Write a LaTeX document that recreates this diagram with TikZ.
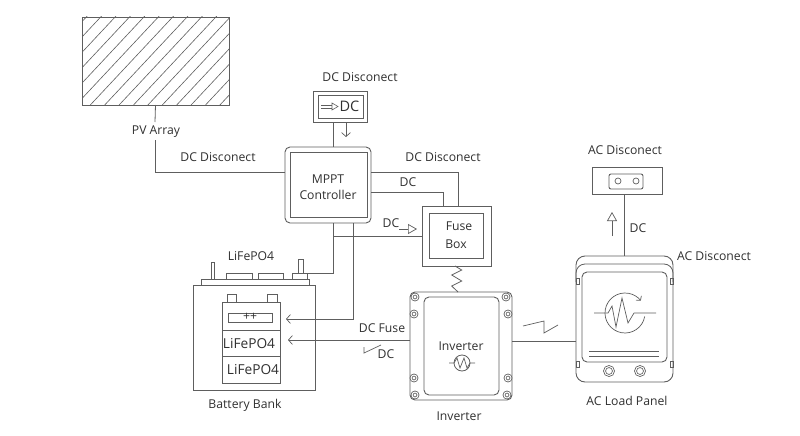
\documentclass[tikz,border=0pt]{standalone}
\usepackage{fontspec}
\setmainfont{Open Sans}
\usetikzlibrary{arrows,arrows.meta}
\definecolor{linegray}{HTML}{5E5E5E}
\definecolor{textgray}{HTML}{303030}
\tikzset{
    box/.style={draw=linegray,line width=0.9pt,inner sep=0pt,outer sep=0pt},
    wire/.style={draw=linegray,line width=0.8pt},
    lbl/.style={text=textgray,font=\fontsize{12.2}{14}\selectfont,inner sep=0pt},
    biglbl/.style={lbl,font=\fontsize{13.7}{15}\selectfont},
    vtip/.style={-{Straight Barb[length=4pt,width=9pt,line width=0.7pt]}},
    tritip/.style={-{Triangle[open,length=9pt,width=10pt,line width=0.7pt]}},
    screw/.style={circle,draw=linegray,line width=0.8pt,inner sep=0pt,double=white,double distance=1pt},
    pin/.style={circle,draw=linegray,line width=0.7pt,minimum size=6pt,inner sep=0pt},
}
\begin{document}
\begin{tikzpicture}[x=1pt,y=-1pt]
    \useasboundingbox (0,0) rectangle (800,436);

    % pv array
    \begin{scope}
        \clip (82,17) rectangle (229,105);
        \foreach \i in {-2,...,15}
            \draw [wire,line width=0.6pt] (18.3+14.4*\i,105) -- ++(88,-94);
    \end{scope}
    \node [box,minimum width=147pt,minimum height=88pt] (pv) at (155.5,61) {};
    \node [lbl] (pvlabel) at (156,132) {PV Array};
    \node [lbl] (pvdc) at (218,157) {DC Disconect};

    % mppt controller
    \node [box,rounded corners=5pt,minimum width=86pt,minimum height=76pt] (mppt) at (328,185) {};
    \node [box,minimum width=77pt,minimum height=65pt] (mpptin) at (328.5,184.5) {};
    \node [lbl] (mppttext) at (328,179) {MPPT};
    \node [lbl] (ctrltext) at (328,195) {Controller};

    % dc disconnect
    \node [box,minimum width=54pt,minimum height=31pt] (disc) at (340,106.5) {};
    \node [box,minimum width=45pt,minimum height=23pt] (discin) at (340.5,106.5) {};
    \node [lbl] (disclabel) at (360,77) {DC Disconect};
    \node [lbl,font=\fontsize{14.5}{16}\selectfont] (disctext) at (349.5,106.5) {DC};
    \draw [wire,line width=0.6pt] (321,105) -- (332,105);
    \draw [wire,line width=0.6pt] (321,108) -- (332,108);
    \draw [wire,line width=0.6pt] (332,103) -- (338,106.5) -- (332,110) -- cycle;
    \coordinate (dnstart) at (346,123);
    \coordinate (dnend) at (346,137);
    \draw [wire,line width=0.6pt,vtip] (dnstart) -- (dnend);

    % fuse box
    \node [box,minimum width=69pt,minimum height=60pt] (fuse) at (456.5,236) {};
    \node [box,minimum width=54pt,minimum height=45pt] (fusein) at (456,235.5) {};
    \node [lbl] (fusetext) at (459,226) {Fuse};
    \node [lbl] (boxtext) at (456,244) {Box};
    \node [lbl] (toplabel) at (443,157) {DC Disconect};
    \node [lbl] (dcone) at (408,182) {DC};
    \node [lbl] (dctwo) at (391,223) {DC};
    \coordinate (trstart) at (399,229);
    \coordinate (trend) at (417,229);
    \draw [wire,line width=0.6pt,tritip] (trstart) -- (trend);

    % battery bank
    \node [box,minimum width=122pt,minimum height=105pt] (bank) at (254,337.5) {};
    \node [box,minimum width=108pt,minimum height=6pt] (plate) at (255,282) {};
    \node [box,minimum width=3pt,minimum height=17pt] (postl) at (212.5,270.5) {};
    \node [box,minimum width=5pt,minimum height=14pt] (postr) at (300.5,266) {};
    \node [box,minimum width=15pt,minimum height=6pt] (clamp) at (299.5,276) {};
    \node [box,minimum width=26pt,minimum height=6pt] (capa) at (239,276) {};
    \node [box,minimum width=25pt,minimum height=6pt] (capb) at (270.5,276) {};
    \node [box,minimum width=58pt,minimum height=28pt] (cella) at (251,316) {};
    \node [box,minimum width=58pt,minimum height=26pt] (cellb) at (251,343) {};
    \node [box,minimum width=58pt,minimum height=27pt] (cellc) at (251,369.5) {};
    \node [box,minimum width=9pt,minimum height=8pt] (terma) at (231.5,298) {};
    \node [box,minimum width=10pt,minimum height=8pt] (termb) at (272,298) {};
    \node [box,minimum width=44pt,minimum height=9pt] (window) at (250,317.5) {};
    \node [lbl] (plus) at (250,317) {++};
    \node [biglbl] (lifea) at (249,344) {LiFePO4};
    \node [biglbl] (lifeb) at (253,370) {LiFePO4};
    \node [lbl] (lifelabel) at (251,256) {LiFePO4};
    \node [lbl] (banklabel) at (245,405) {Battery Bank};

    % inverter
    \node [box,rounded corners=5pt,minimum width=102pt,minimum height=108pt] (inv) at (461,346) {};
    \node [box,rounded corners=5pt,minimum width=75pt,minimum height=98pt] (invin) at (461.5,346) {};
    \foreach \name/\x/\y in {sa/415/297,sb/414/314,sc/414/378,sd/415/395,se/506/297,sf/508/314,sg/508/378,sh/507/395}
        \node [screw,minimum size=6pt] (\name) at (\x,\y) {};
    \node [lbl] (invtext) at (461,346) {Inverter};
    \node [lbl] (invlabel) at (459,416) {Inverter};
    \node [circle,draw=linegray,line width=0.8pt,minimum size=16pt,inner sep=0pt] (invsym) at (462,363) {};
    \draw [wire,line width=0.7pt] (449,363) -- (454,363) -- (457,358) -- (460,368) -- (464,358) -- (467,368) -- (470,363) -- (475,363);
    \node [lbl] (fuselabel) at (382,328) {DC Fuse};
    \node [lbl] (dcthree) at (386,354) {DC};
    \draw [wire,line width=0.7pt] (364,347) -- (364,353) -- (381,345);

    % ac load panel
    \node [box,rounded corners=9pt,minimum width=97pt,minimum height=126pt] (panel) at (624.5,319) {};
    \draw [wire,rounded corners=9pt] (576,282) -- (576,264) -- (673,264) -- (673,282);
    \node [box,rounded corners=5pt,minimum width=85pt,minimum height=90pt] (screen) at (624.5,317) {};
    \foreach \name/\x/\y in {taba/577.5/281,tabb/671.5/281,tabc/577.5/364.5,tabd/671.5/364.5}
        \node [box,minimum width=3pt,minimum height=6pt] (\name) at (\x,\y) {};
    \node [screw,minimum size=9pt] (knoba) at (609,371) {};
    \node [screw,minimum size=9pt] (knobb) at (640,371) {};
    \draw [wire] (589,351) -- (659,351);
    \draw [wire] (589,356) -- (659,356);
    \coordinate (gauge) at (625,313);
    \draw [wire,line width=0.7pt,-{Straight Barb[length=3pt,width=7pt,line width=0.7pt]}] (gauge) ++(10:20) arc (10:322:20);
    \draw [wire,line width=0.7pt] (594,313) -- (608,313) -- (612,306) -- (616,327) -- (622,298) -- (628,323) -- (634,313) -- (656,313);
    \node [lbl] (paneltop) at (714,256) {AC Disconect};
    \node [lbl] (panellabel) at (627,401) {AC Load Panel};

    % ac disconnect
    \node [box,minimum width=70pt,minimum height=27pt] (acd) at (627,180.5) {};
    \node [box,rounded corners=2pt,minimum width=34pt,minimum height=15pt] (acdin) at (626,181.5) {};
    \node [pin] (pina) at (618,181) {};
    \node [pin] (pinb) at (636,181) {};
    \node [lbl] (acdlabel) at (625,150) {AC Disconect};
    \node [lbl] (dcfour) at (638,228) {DC};
    \coordinate (upstart) at (612,236);
    \coordinate (upend) at (612,212);
    \draw [wire,line width=0.6pt,tritip] (upstart) -- (upend);

    % connectors
    \coordinate (acdout) at (624,194);
    \coordinate (panelin) at (624,256);
    \coordinate (mpptup) at (333,147);
    \coordinate (discdown) at (333,122);
    \coordinate (mpptra) at (371,172);
    \coordinate (fuseina) at (458,206);
    \coordinate (mpptrb) at (371,192);
    \coordinate (fuseinb) at (443,206);
    \coordinate (mpptba) at (333,223);
    \coordinate (clampin) at (293,273);
    \coordinate (fusetap) at (422,236);
    \coordinate (mpptbb) at (353,223);
    \coordinate (arrowa) at (286,319);
    \coordinate (arrowb) at (288,340);
    \coordinate (invleft) at (410,340);
    \coordinate (invright) at (512,341);
    \coordinate (panelleft) at (576,341);
    \coordinate (springtop) at (455,266);
    \coordinate (springend) at (458,292);
    \coordinate (pvtop) at (155,122);
    \coordinate (pvbot) at (155,140);
    \coordinate (mpptleft) at (285,172);
    \draw [wire] (pv.south) -- (pvtop);
    \draw [wire] (pvbot) |- (mpptleft);
    \draw [wire] (discdown) -- (mpptup);
    \draw [wire] (mpptra) -| (fuseina);
    \draw [wire] (mpptrb) -| (fuseinb);
    \draw [wire] (mpptba) |- (clampin);
    \draw [wire] (mpptba |- fusetap) -- (fusetap);
    \draw [wire,vtip] (mpptbb) |- (arrowa);
    \draw [wire,vtip] (invleft) -- (arrowb);
    \draw [wire] (invright) -- (panelleft);
    \draw [wire] (acdout) -- (panelin);
    \draw [wire] (springtop) -- (461.7,270) -- (451.7,275) -- (461.7,281) -- (451.7,286) -- (springend);
    \draw [wire,line width=0.7pt] (523,326) -- (544,321) -- (544,333) -- (558,325);
\end{tikzpicture}
\end{document}
